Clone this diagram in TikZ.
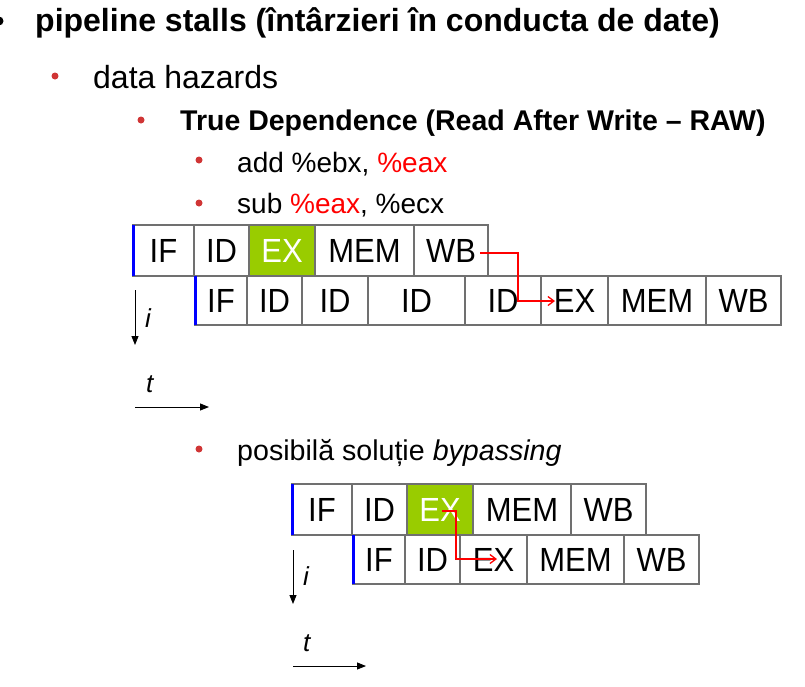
\documentclass[tikz,border=0pt]{standalone}
\usepackage{fontspec}
\usepackage{graphicx}
\setmainfont{Liberation Sans}
\usetikzlibrary{arrows.meta}

\definecolor{gridgray}{HTML}{707070}
\definecolor{exgreen}{HTML}{99CC00}
\definecolor{bulletred}{HTML}{D03535}
\definecolor{regred}{HTML}{FF0000}
\definecolor{stageblue}{HTML}{0000FF}

% stage labels are set slightly taller than the plain font
\newcommand{\stagetext}[1]{\scalebox{1}[1.08]{#1}}

\tikzset{
  cell/.style={draw=gridgray, line width=1.2pt, inner sep=0pt, outer sep=0pt,
    font=\fontsize{31}{31}\selectfont},
  hi/.style={cell, fill=exgreen, text=white},
  rowA/.style={minimum height=51pt},
  rowB/.style={minimum height=49pt},
  startedge/.style={draw=stageblue, line width=3pt},
  fwd/.style={draw=regred, line width=1.3pt, -{Straight Barb[length=6pt,width=9pt]}},
  axis/.style={draw=black, line width=0.9pt, -{Triangle[length=9pt,width=7pt]}},
  bul/.style={circle, fill=bulletred, inner sep=0pt, minimum size=7pt},
  txt/.style={anchor=base west, inner sep=0pt, font=\fontsize{28}{34}\selectfont},
  axlabel/.style={anchor=base west, inner sep=0pt, font=\fontsize{26}{30}\selectfont\itshape},
}

\begin{document}
\begin{tikzpicture}[x=1pt, y=-1pt]
\useasboundingbox (0,0) rectangle (805,686);

% headings and bullet list
\node[circle, fill=black, inner sep=0pt, minimum size=9pt] (b0) at (-1,21) {};
\node[txt, font=\fontsize{32}{38}\selectfont\bfseries] (h0) at (35,31)
  {pipeline stalls (întârzieri în conducta de date)};
\node[bul] (b1) at (55,76) {};
\node[txt, font=\fontsize{32}{38}\selectfont] (h1) at (93,88) {data hazards};
\node[bul] (b2) at (141,120) {};
\node[txt, font=\fontsize{28.5}{34}\selectfont\bfseries] (h2) at (180,130)
  {True Dependence (Read After Write – RAW)};
\node[bul] (b3) at (199,160) {};
\node[txt] (h3) at (237,172) {add \%ebx, \textcolor{regred}{\%eax}};
\node[bul] (b4) at (199,203) {};
\node[txt] (h4) at (237,213) {sub \textcolor{regred}{\%eax}, \%ecx};
\node[bul] (b5) at (199,449) {};
\node[txt, font=\fontsize{28.6}{34}\selectfont] (h5) at (237,460) {posibilă soluție \textit{bypassing}};

% stalled pipeline: add
\node[cell, rowA, minimum width=61pt] (a1) at (163.5,250.5) {\stagetext{IF}};
\node[cell, rowA, minimum width=55pt] (a2) at (221.5,250.5) {\stagetext{ID}};
\node[hi,   rowA, minimum width=66pt] (a3) at (282,250.5) {\stagetext{EX}};
\node[cell, rowA, minimum width=99pt] (a4) at (364.5,250.5) {\stagetext{MEM}};
\node[cell, rowA, minimum width=74pt] (a5) at (451,250.5) {\stagetext{WB}};
\draw[startedge] (a1.north west) -- (a1.south west);

% stalled pipeline: sub
\node[cell, rowB, minimum width=52pt] (s1) at (221,300.5) {\stagetext{IF}};
\node[cell, rowB, minimum width=55pt] (s2) at (274.5,300.5) {\stagetext{ID}};
\node[cell, rowB, minimum width=66pt] (s3) at (335,300.5) {\stagetext{ID}};
\node[cell, rowB, minimum width=97pt] (s4) at (416.5,300.5) {\stagetext{ID}};
\node[cell, rowB, minimum width=76pt] (s5) at (503,300.5) {\stagetext{ID}};
\node[cell, rowB, minimum width=67pt] (s6) at (574.5,300.5) {\stagetext{EX}};
\node[cell, rowB, minimum width=98pt] (s7) at (657,300.5) {\stagetext{MEM}};
\node[cell, rowB, minimum width=75pt] (s8) at (743.5,300.5) {\stagetext{WB}};
\draw[startedge] (s1.north west) -- (s1.south west);

% write-back to execute dependency
\coordinate (f1a) at (480,253);
\coordinate (f1b) at (555,301);
\draw[fwd] (f1a) -- ++(38,0) |- (f1b);

% axes
\coordinate (i1a) at (135,290);
\coordinate (i1b) at (135,345);
\draw[axis] (i1a) -- (i1b);
\node[axlabel] (i1) at (145,327) {i};
\coordinate (t1a) at (135,407);
\coordinate (t1b) at (209,407);
\draw[axis] (t1a) -- (t1b);
\node[axlabel] (t1) at (146,392) {t};

% bypassing: add
\node[cell, rowA, minimum width=60pt] (c1) at (322,509.5) {\stagetext{IF}};
\node[cell, rowA, minimum width=55pt] (c2) at (379.5,509.5) {\stagetext{ID}};
\node[hi,   rowA, minimum width=66pt] (c3) at (440,509.5) {\stagetext{EX}};
\node[cell, rowA, minimum width=98pt] (c4) at (522,509.5) {\stagetext{MEM}};
\node[cell, rowA, minimum width=75pt] (c5) at (608.5,509.5) {\stagetext{WB}};
\draw[startedge] (c1.north west) -- (c1.south west);

% bypassing: sub
\node[cell, rowB, minimum width=52pt] (d1) at (379,559.5) {\stagetext{IF}};
\node[cell, rowB, minimum width=55pt] (d2) at (432.5,559.5) {\stagetext{ID}};
\node[cell, rowB, minimum width=67pt] (d3) at (493.5,559.5) {\stagetext{EX}};
\node[cell, rowB, minimum width=97pt] (d4) at (575.5,559.5) {\stagetext{MEM}};
\node[cell, rowB, minimum width=75pt] (d5) at (661.5,559.5) {\stagetext{WB}};
\draw[startedge] (d1.north west) -- (d1.south west);

% execute to execute forwarding
\coordinate (f2a) at (442,511);
\coordinate (f2b) at (497,559);
\draw[fwd] (f2a) -- ++(14,0) |- (f2b);

% axes
\coordinate (i2a) at (293,550);
\coordinate (i2b) at (293,604);
\draw[axis] (i2a) -- (i2b);
\node[axlabel] (i2) at (303,585) {i};
\coordinate (t2a) at (293,666);
\coordinate (t2b) at (366,666);
\draw[axis] (t2a) -- (t2b);
\node[axlabel] (t2) at (303,651) {t};
\end{tikzpicture}
\end{document}
